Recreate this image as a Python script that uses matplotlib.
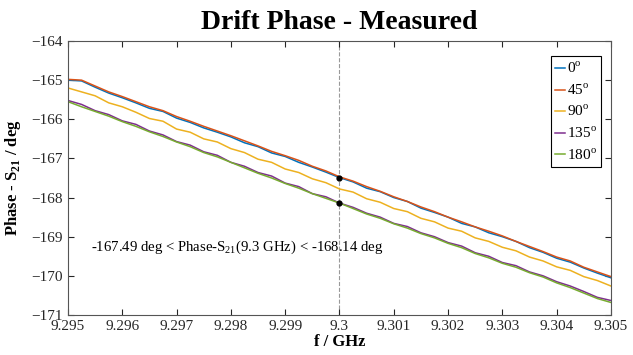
import numpy as np
import matplotlib
matplotlib.use("Agg")
import matplotlib.pyplot as plt

plt.rcParams['font.family'] = ['Liberation Serif', 'DejaVu Serif']
plt.rcParams['mathtext.fontset'] = 'custom'
plt.rcParams['mathtext.rm'] = 'Liberation Serif'
plt.rcParams['mathtext.bf'] = 'Liberation Serif:bold'

freq = [9.295 + 0.00025 * i for i in range(41)]

phase_0 = [-165.00, -165.02, -165.18, -165.33, -165.45, -165.58, -165.72, -165.80, -165.97, -166.08,
           -166.22, -166.33, -166.45, -166.60, -166.70, -166.86, -166.95, -167.10, -167.22, -167.35,
           -167.49, -167.60, -167.76, -167.85, -168.00, -168.10, -168.27, -168.38, -168.50, -168.66,
           -168.75, -168.90, -169.00, -169.12, -169.28, -169.40, -169.55, -169.65, -169.80, -169.93,
           -170.05]
phase_45 = [-164.98, -165.00, -165.15, -165.30, -165.42, -165.55, -165.68, -165.78, -165.93, -166.05,
            -166.18, -166.30, -166.42, -166.55, -166.68, -166.82, -166.93, -167.05, -167.20, -167.32,
            -167.47, -167.58, -167.72, -167.84, -167.98, -168.10, -168.24, -168.36, -168.50, -168.62,
            -168.75, -168.86, -168.98, -169.12, -169.25, -169.38, -169.52, -169.62, -169.78, -169.90,
            -170.02]
phase_90 = [-165.20, -165.30, -165.40, -165.58, -165.68, -165.82, -165.98, -166.05, -166.25, -166.33,
            -166.50, -166.58, -166.75, -166.85, -167.02, -167.10, -167.27, -167.36, -167.52, -167.62,
            -167.78, -167.86, -168.03, -168.12, -168.28, -168.36, -168.53, -168.62, -168.78, -168.86,
            -169.03, -169.12, -169.27, -169.36, -169.52, -169.62, -169.77, -169.86, -170.02, -170.12,
            -170.26]
phase_135 = [-165.52, -165.62, -165.78, -165.88, -166.04, -166.13, -166.30, -166.40, -166.57, -166.66,
             -166.83, -166.92, -167.10, -167.20, -167.36, -167.45, -167.63, -167.72, -167.90, -167.98,
             -168.14, -168.25, -168.40, -168.50, -168.66, -168.74, -168.90, -169.00, -169.15, -169.24,
             -169.41, -169.50, -169.66, -169.74, -169.90, -170.00, -170.15, -170.26, -170.40, -170.55,
             -170.63]
phase_180 = [-165.55, -165.68, -165.80, -165.92, -166.06, -166.18, -166.32, -166.44, -166.58, -166.70,
             -166.85, -166.96, -167.10, -167.24, -167.38, -167.50, -167.64, -167.76, -167.90, -168.02,
             -168.14, -168.28, -168.42, -168.53, -168.67, -168.78, -168.92, -169.03, -169.17, -169.28,
             -169.43, -169.54, -169.68, -169.78, -169.92, -170.03, -170.18, -170.30, -170.44, -170.58,
             -170.68]

series = [phase_0, phase_45, phase_90, phase_135, phase_180]
labels = [r'0$^{\rm o}$', r'45$^{\rm o}$', r'90$^{\rm o}$', r'135$^{\rm o}$', r'180$^{\rm o}$']
colors = ['#0072BD', '#D95319', '#EDB120', '#7E2F8E', '#77AC30']

marker_f = 9.3
marker_vals = [-167.49, -168.14]
xticks = [9.295, 9.296, 9.297, 9.298, 9.299, 9.3, 9.301, 9.302, 9.303, 9.304, 9.305]
xticklabels = ['9.295', '9.296', '9.297', '9.298', '9.299', '9.3', '9.301', '9.302', '9.303', '9.304', '9.305']
yticks = [-171, -170, -169, -168, -167, -166, -165, -164]

fig = plt.figure(figsize=(6.33, 3.55), dpi=100)
ax = fig.add_axes([0.1074, 0.1127, 0.8578, 0.7718])

for s, lab, c in zip(series, labels, colors):
    ax.plot(freq, s, color=c, lw=1.1, label=lab)

ax.axvline(marker_f, color='#999999', lw=0.8, ls='--', zorder=0)
ax.plot([marker_f] * len(marker_vals), marker_vals, 'o', color='black', ms=3.5, zorder=5)

ax.text(9.29543, -169.27,
        r'-167.49 deg < Phase-S$_{21}$(9.3 GHz) < -168.14 deg',
        fontsize=10.6, va='center', ha='left')

ax.set_xlim(9.295, 9.305)
ax.set_ylim(-171, -164)
ax.set_xticks(xticks)
ax.set_xticklabels(xticklabels)
ax.set_yticks(yticks)
ax.tick_params(direction='in', top=True, right=True, labelsize=11, colors='#262626',
               length=4, width=0.8)
for sp in ax.spines.values():
    sp.set_color('#555555')
    sp.set_linewidth(0.8)

ax.set_xlabel('f / GHz', fontsize=12, fontweight='bold', labelpad=1)
ax.set_ylabel(r'Phase - S$_{\mathbf{21}}$ / deg', fontsize=12, fontweight='bold', labelpad=6)
ax.set_title('Drift Phase - Measured', fontsize=20, fontweight='bold', pad=9)

leg = ax.legend(loc='upper right', bbox_to_anchor=(0.988, 0.955), fontsize=11,
                handlelength=0.6, handletextpad=0.15, borderpad=0.3, labelspacing=0.4,
                fancybox=False, framealpha=1, edgecolor='black', borderaxespad=0.2)
leg.get_frame().set_linewidth(0.8)

fig.savefig('out.png', dpi=100)
